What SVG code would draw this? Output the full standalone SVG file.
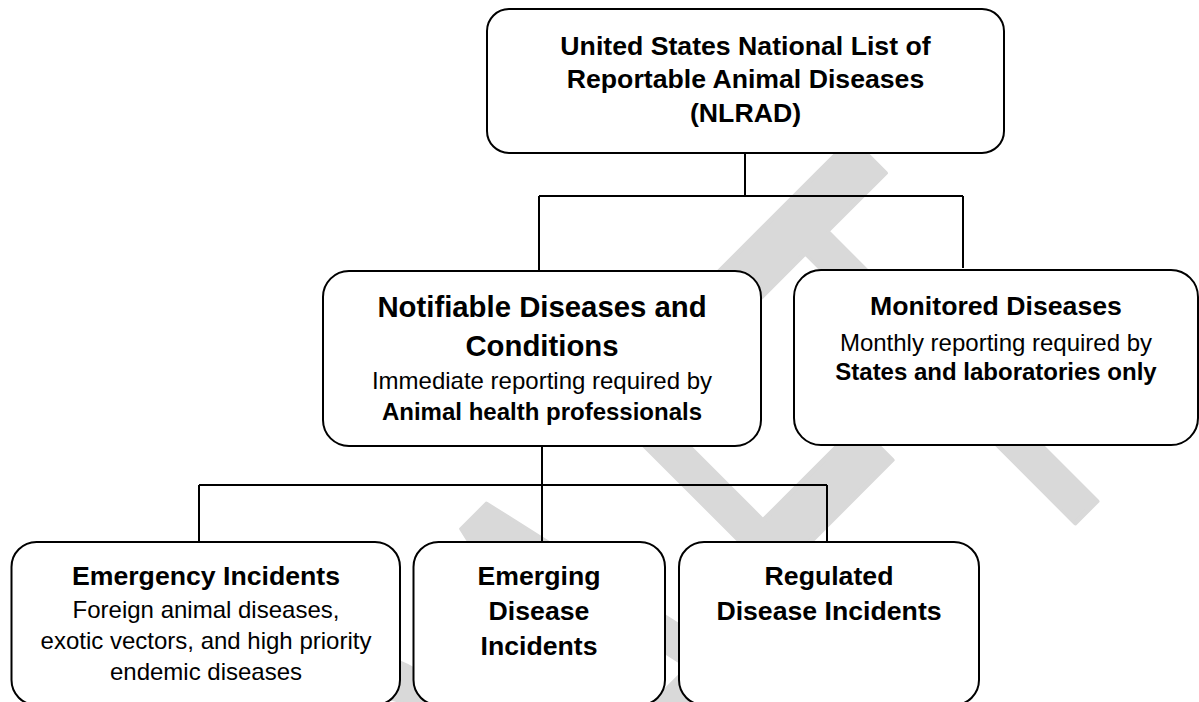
<svg xmlns="http://www.w3.org/2000/svg" width="1199" height="702" viewBox="0 0 1199 702">
<style>
.box{fill:#fff;stroke:#000;stroke-width:2}
.t{font-family:"Liberation Sans",Arial,sans-serif;text-anchor:middle;fill:#000}
.h{font-weight:bold;font-size:26.67px}
.h2{font-weight:bold;font-size:29.33px}
.b{font-size:24px}
.bb{font-size:24px;font-weight:bold}
.conn{fill:none;stroke:#000;stroke-width:2}
.wm{font-family:"Liberation Sans",Arial,sans-serif;font-size:624px;fill:#d9d9d9;stroke:#d9d9d9;stroke-width:5;stroke-linejoin:round}
</style>
<rect width="1199" height="702" fill="#fff"/>
<g id="watermark"><text class="wm" transform="translate(338,1260) rotate(-45) scale(0.56,1)" x="0" y="0">DRA<tspan dx="45">F</tspan><tspan dx="-45">T</tspan></text></g>
<g id="connectors" class="conn">
<path d="M745,153 V196 M539,196 H963 M539,196 V271 M963,196 V268"/>
<path d="M542,446 V542 M199,485 H827 M199,485 V542 M827,485 V542"/>
</g>
<g id="nlrad">
<rect class="box" x="487" y="9" width="517" height="144" rx="22"/>
<text class="t h" x="745.5" y="54.5">United States National List of</text>
<text class="t h" x="745.5" y="88">Reportable Animal Diseases</text>
<text class="t h" x="745.5" y="121.5">(NLRAD)</text>
</g>
<g id="notifiable">
<rect class="box" x="323" y="271" width="438" height="175" rx="26"/>
<text class="t h2" x="542" y="317">Notifiable Diseases and</text>
<text class="t h2" x="542" y="355.5">Conditions</text>
<text class="t b" x="542" y="389">Immediate reporting required by</text>
<text class="t bb" x="542" y="420">Animal health professionals</text>
</g>
<g id="monitored">
<rect class="box" x="794" y="270" width="404" height="175" rx="27"/>
<text class="t h" x="996" y="315">Monitored Diseases</text>
<text class="t b" x="996" y="350.5">Monthly reporting required by</text>
<text class="t bb" x="996" y="379.5">States and laboratories only</text>
</g>
<g id="emergency">
<rect class="box" x="11.5" y="542" width="388.5" height="163" rx="25"/>
<text class="t h" x="206" y="585">Emergency Incidents</text>
<text class="t b" x="206" y="618">Foreign animal diseases,</text>
<text class="t b" x="206" y="648.5">exotic vectors, and high priority</text>
<text class="t b" x="206" y="680">endemic diseases</text>
</g>
<g id="emerging">
<rect class="box" x="413.5" y="542" width="251.5" height="163" rx="25"/>
<text class="t h" x="539" y="584.5">Emerging</text>
<text class="t h" x="539" y="620">Disease</text>
<text class="t h" x="539" y="655">Incidents</text>
</g>
<g id="regulated">
<rect class="box" x="679" y="542" width="300" height="163" rx="25"/>
<text class="t h" x="829" y="585">Regulated</text>
<text class="t h" x="829" y="620">Disease Incidents</text>
</g>
</svg>
